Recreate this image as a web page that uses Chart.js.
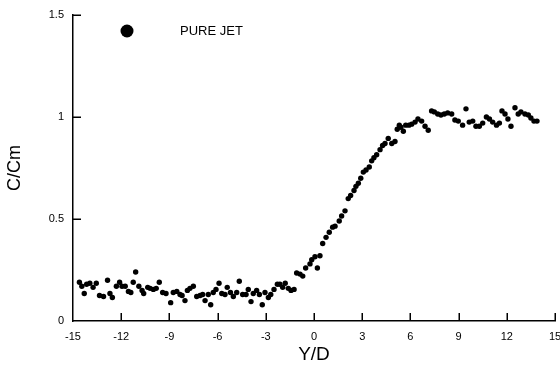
<!DOCTYPE html>
<html>
<head>
<meta charset="utf-8">
<script src="https://cdn.jsdelivr.net/npm/chart.js@4/dist/chart.umd.min.js"></script>
<style>
  html, body { margin: 0; padding: 0; background: #fff; }
  #chart { display: block; }
</style>
</head>
<body>
<canvas id="chart" width="560" height="369"></canvas>
<script>
const seriesLabel = 'PURE JET';

const yOverD = [
  -14.6, -14.45, -14.3, -14.15, -13.95, -13.75, -13.55, -13.35, -13.1, -12.85,
  -12.7, -12.55, -12.3, -12.1, -11.95, -11.75, -11.55, -11.4, -11.25, -11.1,
  -10.9, -10.7, -10.6, -10.35, -10.2, -10.0, -9.82, -9.63, -9.42, -9.21,
  -8.92, -8.76, -8.54, -8.34, -8.21, -8.03, -7.88, -7.72, -7.51, -7.3,
  -7.09, -6.93, -6.78, -6.58, -6.43, -6.27, -6.1, -5.91, -5.74, -5.54,
  -5.4, -5.2, -5.02, -4.81, -4.65, -4.44, -4.23, -4.09, -3.92, -3.78,
  -3.57, -3.4, -3.22, -3.05, -2.84, -2.69, -2.49, -2.28, -2.12, -1.95,
  -1.79, -1.6, -1.43, -1.24, -1.08, -0.87, -0.7, -0.52, -0.25, -0.14,
  0.06, 0.21, 0.37, 0.54, 0.75, 0.95, 1.16, 1.31, 1.57, 1.72,
  1.93, 2.13, 2.28, 2.49, 2.61, 2.76, 2.91, 3.07, 3.24, 3.44,
  3.59, 3.73, 3.9, 4.11, 4.27, 4.42, 4.62, 4.84, 5.04, 5.18,
  5.31, 5.41, 5.56, 5.71, 5.91, 6.08, 6.29, 6.47, 6.7, 6.91,
  7.11, 7.32, 7.49, 7.7, 7.9, 8.11, 8.32, 8.57, 8.77, 8.98,
  9.25, 9.46, 9.66, 9.88, 10.08, 10.29, 10.5, 10.73, 10.92, 11.12,
  11.36, 11.54, 11.7, 11.89, 12.07, 12.26, 12.51, 12.71, 12.88, 13.13,
  13.34, 13.5, 13.69, 13.88
];

const cOverCm = [
  0.19, 0.17, 0.135, 0.18, 0.185, 0.165, 0.185, 0.125, 0.12, 0.2,
  0.135, 0.115, 0.17, 0.19, 0.17, 0.17, 0.145, 0.14, 0.19, 0.24,
  0.17, 0.15, 0.135, 0.165, 0.16, 0.155, 0.16, 0.19, 0.14, 0.135,
  0.09, 0.14, 0.145, 0.13, 0.125, 0.1, 0.15, 0.16, 0.17, 0.12,
  0.125, 0.13, 0.1, 0.13, 0.08, 0.14, 0.155, 0.185, 0.135, 0.13,
  0.165, 0.14, 0.12, 0.14, 0.195, 0.13, 0.13, 0.155, 0.095, 0.135,
  0.15, 0.13, 0.08, 0.14, 0.115, 0.13, 0.155, 0.18, 0.18, 0.165,
  0.185, 0.16, 0.15, 0.155, 0.235, 0.23, 0.22, 0.26, 0.28, 0.3,
  0.315, 0.26, 0.32, 0.38, 0.41, 0.435, 0.46, 0.465, 0.49, 0.515,
  0.54, 0.6, 0.615, 0.64, 0.66, 0.675, 0.7, 0.73, 0.74, 0.755,
  0.785, 0.8, 0.815, 0.84, 0.86, 0.87, 0.895, 0.87, 0.88, 0.94,
  0.96, 0.95, 0.93, 0.96, 0.96, 0.965, 0.975, 0.99, 0.98, 0.955,
  0.935, 1.03, 1.025, 1.015, 1.01, 1.015, 1.02, 1.015, 0.985, 0.98,
  0.96, 1.04, 0.975, 0.98, 0.955, 0.955, 0.97, 1.0, 0.99, 0.975,
  0.96, 0.97, 1.03, 1.015, 0.99, 0.955, 1.045, 1.015, 1.025, 1.015,
  1.01, 0.995, 0.98, 0.98
];

// Axis ticks
const xTickValues = [-15, -12, -9, -6, -3, 0, 3, 6, 9, 12, 15];
const yTickValues = [0, 0.5, 1, 1.5];

const FONT = "'Liberation Sans', Arial, sans-serif";

// Draw tick marks pointing into the plot, like the original figure
const inwardTicks = {
  id: 'inwardTicks',
  afterDraw(chart) {
    const { ctx, chartArea, scales: { x, y } } = chart;
    ctx.save();
    ctx.strokeStyle = '#000';
    ctx.lineWidth = 1.5;
    ctx.beginPath();
    xTickValues.forEach((v) => {
      if (v === xTickValues[0]) return;
      const px = Math.round(x.getPixelForValue(v)) + 0.25;
      ctx.moveTo(px, chartArea.bottom);
      ctx.lineTo(px, chartArea.bottom - 8);
    });
    yTickValues.forEach((v) => {
      if (v === yTickValues[0]) return;
      const py = Math.round(y.getPixelForValue(v)) + 0.25;
      ctx.moveTo(chartArea.left, py);
      ctx.lineTo(chartArea.left + 8, py);
    });
    ctx.stroke();
    ctx.restore();
  },
};

// Single-entry legend placed inside the plot, top left
const innerLegend = {
  id: 'innerLegend',
  afterDraw(chart) {
    const { ctx } = chart;
    ctx.save();
    ctx.fillStyle = '#000';
    ctx.beginPath();
    ctx.arc(127, 31, 6.5, 0, Math.PI * 2);
    ctx.fill();
    ctx.font = `13px ${FONT}`;
    ctx.textBaseline = 'middle';
    ctx.textAlign = 'left';
    ctx.fillText(chart.data.datasets[0].label, 180, 31);
    ctx.restore();
  },
};

const points = yOverD.map((x, i) => ({ x, y: cOverCm[i] }));

new Chart(document.getElementById('chart'), {
  type: 'scatter',
  data: {
    datasets: [
      {
        label: seriesLabel,
        data: points,
        backgroundColor: '#000',
        borderColor: '#000',
        pointRadius: 2.7,
        pointBorderWidth: 0,
      },
    ],
  },
  options: {
    responsive: false,
    animation: false,
    devicePixelRatio: 1,
    layout: { padding: { top: 15, right: 5, left: 0, bottom: 0 } },
    plugins: {
      legend: { display: false },
      tooltip: { enabled: false },
    },
    scales: {
      x: {
        type: 'linear',
        min: -15,
        max: 15,
        afterBuildTicks: (scale) => {
          scale.ticks = xTickValues.map((value) => ({ value }));
        },
        afterFit: (scale) => {
          scale.height = 48;
          scale.paddingLeft = 0;
          scale.paddingRight = 0;
        },
        ticks: {
          color: '#000',
          font: { family: FONT, size: 11 },
          padding: 9,
          maxRotation: 0,
          callback: (value) => String(value),
        },
        grid: { display: false, drawTicks: false },
        border: { display: true, color: '#000', width: 1.5 },
        title: {
          display: true,
          text: 'Y/D',
          color: '#000',
          font: { family: FONT, size: 19 },
          padding: { top: 0, bottom: 3 },
        },
      },
      y: {
        type: 'linear',
        min: 0,
        max: 1.5,
        afterBuildTicks: (scale) => {
          scale.ticks = yTickValues.map((value) => ({ value }));
        },
        afterFit: (scale) => {
          scale.width = 73;
          scale.paddingTop = 0;
          scale.paddingBottom = 0;
        },
        ticks: {
          color: '#000',
          font: { family: FONT, size: 11 },
          padding: 9,
          callback: (value) => String(value),
        },
        grid: { display: false, drawTicks: false },
        border: { display: true, color: '#000', width: 1.5 },
        title: {
          display: true,
          text: 'C/Cm',
          color: '#000',
          font: { family: FONT, size: 18 },
          padding: { top: 4, bottom: 0 },
        },
      },
    },
  },
  plugins: [inwardTicks, innerLegend],
});
</script>
</body>
</html>
